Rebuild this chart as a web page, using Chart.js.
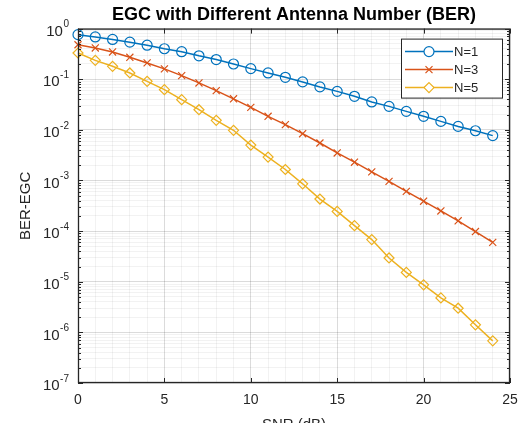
<!DOCTYPE html>
<html lang="en">
<head>
    <meta charset="UTF-8">
    <title>EGC with Different Antenna Number (BER)</title>
    <script src="https://cdn.jsdelivr.net/npm/chart.js"></script>
    <style>
        body {
            margin: 0;
            background-color: #fff;
        }
        canvas {
            display: block;
        }
    </style>
</head>
<body>
    <canvas id="berChart" width="519" height="423"></canvas>

    <script>
        // values
        const snr = [0, 1, 2, 3, 4, 5, 6, 7, 8, 9, 10, 11, 12, 13, 14, 15, 16, 17, 18, 19, 20, 21, 22, 23, 24];
        const berN1 = [0.76, 0.685, 0.61, 0.54, 0.47, 0.40, 0.35, 0.29, 0.245, 0.20, 0.162, 0.133, 0.109,
                       0.0885, 0.0705, 0.0576, 0.046, 0.0356, 0.0291, 0.0232, 0.0185, 0.0147, 0.0117, 0.0096, 0.0077];
        const berN3 = [0.48, 0.415, 0.346, 0.271, 0.21, 0.16, 0.118, 0.0845, 0.0595, 0.041, 0.0278, 0.0185, 0.0127,
                       0.0084, 0.0055, 0.0035, 0.0023, 0.00148, 9.6e-4, 6.1e-4, 3.9e-4, 2.5e-4, 1.6e-4, 9.8e-5, 6.0e-5];
        const berN5 = [0.33, 0.236, 0.18, 0.133, 0.091, 0.0623, 0.0395, 0.025, 0.0154, 0.0098, 0.0050, 0.0029, 0.00165,
                       8.6e-4, 4.3e-4, 2.45e-4, 1.28e-4, 6.8e-5, 2.95e-5, 1.53e-5, 8.7e-6, 4.8e-6, 3.0e-6, 1.41e-6, 6.8e-7];
        const seriesLabels = ['N=1', 'N=3', 'N=5'];
        const xTicks = [0, 5, 10, 15, 20, 25];
        const yExponents = [0, -1, -2, -3, -4, -5, -6, -7];

        const colors = ['#0072BD', '#D95319', '#EDB120'];
        const markers = ['circle', 'crossRot', 'rectRot'];
        const fontFamily = '"Liberation Sans", Arial, Helvetica, sans-serif';
        const axisColor = '#262626';

        function makeDataset(label, values, i) {
            return {
                label: label,
                data: snr.map((s, k) => ({ x: s, y: values[k] })),
                borderColor: colors[i],
                borderWidth: 1.5,
                pointStyle: markers[i],
                pointRadius: 5,
                pointBorderWidth: 1.2,
                pointBorderColor: colors[i],
                pointBackgroundColor: 'rgba(0,0,0,0)',
                clip: 8,
                tension: 0
            };
        }

        // 10^n labels with a raised exponent
        const logLabels = {
            id: 'logLabels',
            afterDraw(chart) {
                const ctx = chart.ctx;
                const y = chart.scales.y;
                const right = chart.chartArea.left - 9;
                ctx.save();
                ctx.fillStyle = axisColor;
                ctx.textBaseline = 'middle';
                yExponents.forEach(e => {
                    const py = y.getPixelForValue(Math.pow(10, e));
                    const exp = String(e);
                    ctx.font = '10px ' + fontFamily;
                    const ew = ctx.measureText(exp).width;
                    ctx.textAlign = 'left';
                    ctx.fillText(exp, right - ew, py - 4);
                    ctx.font = '15px ' + fontFamily;
                    ctx.textAlign = 'right';
                    ctx.fillText('10', right - ew - 0.5, py + 3);
                });
                ctx.restore();
            }
        };

        // box around the axes plus inner tick marks
        const axesBox = {
            id: 'axesBox',
            afterDatasetsDraw(chart) {
                const { ctx, chartArea: a, scales } = chart;
                ctx.save();
                ctx.strokeStyle = axisColor;
                ctx.lineWidth = 1;
                ctx.beginPath();
                scales.y.ticks.forEach(t => {
                    const py = Math.round(scales.y.getPixelForValue(t.value)) + 0.5;
                    const len = t.major ? 5 : 3;
                    ctx.moveTo(a.left, py);
                    ctx.lineTo(a.left + len, py);
                    ctx.moveTo(a.right, py);
                    ctx.lineTo(a.right - len, py);
                });
                xTicks.forEach(v => {
                    const px = Math.round(scales.x.getPixelForValue(v)) + 0.5;
                    ctx.moveTo(px, a.bottom);
                    ctx.lineTo(px, a.bottom - 5);
                    ctx.moveTo(px, a.top);
                    ctx.lineTo(px, a.top + 5);
                });
                ctx.stroke();
                ctx.lineWidth = 1.3;
                ctx.strokeRect(a.left + 0.5, a.top + 0.5, a.right - a.left - 1, a.bottom - a.top - 1);
                ctx.restore();
            }
        };

        // legend box in the upper right corner, line through the marker
        const boxLegend = {
            id: 'boxLegend',
            afterDraw(chart) {
                const ctx = chart.ctx;
                const a = chart.chartArea;
                const bx = a.right - 109, by = a.top + 10, bw = 101, bh = 59;
                ctx.save();
                ctx.fillStyle = '#fff';
                ctx.fillRect(bx, by, bw, bh);
                ctx.strokeStyle = axisColor;
                ctx.lineWidth = 1;
                ctx.strokeRect(bx + 0.5, by + 0.5, bw, bh);
                chart.data.datasets.forEach((ds, i) => {
                    const ry = by + 13 + i * 18;
                    const x0 = bx + 4, x1 = bx + 52, mx = (x0 + x1) / 2;
                    ctx.strokeStyle = ds.borderColor;
                    ctx.lineWidth = 1.5;
                    ctx.beginPath();
                    ctx.moveTo(x0, ry);
                    ctx.lineTo(x1, ry);
                    ctx.stroke();
                    ctx.lineWidth = 1.2;
                    ctx.beginPath();
                    if (ds.pointStyle === 'circle') {
                        ctx.arc(mx, ry, 5, 0, Math.PI * 2);
                    } else if (ds.pointStyle === 'crossRot') {
                        ctx.moveTo(mx - 3.5, ry - 3.5);
                        ctx.lineTo(mx + 3.5, ry + 3.5);
                        ctx.moveTo(mx + 3.5, ry - 3.5);
                        ctx.lineTo(mx - 3.5, ry + 3.5);
                    } else {
                        ctx.moveTo(mx, ry - 5);
                        ctx.lineTo(mx + 5, ry);
                        ctx.lineTo(mx, ry + 5);
                        ctx.lineTo(mx - 5, ry);
                        ctx.closePath();
                    }
                    ctx.fillStyle = '#fff';
                    ctx.fill();
                    ctx.stroke();
                    ctx.fillStyle = axisColor;
                    ctx.font = '13px ' + fontFamily;
                    ctx.textAlign = 'left';
                    ctx.textBaseline = 'middle';
                    ctx.fillText(ds.label, x1 + 1, ry + 1);
                });
                ctx.restore();
            }
        };

        function buildLogTicks(scale) {
            const ticks = [];
            yExponents.slice().reverse().forEach(e => {
                for (let m = 1; m <= 9; m++) {
                    const v = m * Math.pow(10, e);
                    if (v <= 1.0000001) {
                        ticks.push({ value: v, major: m === 1 });
                    }
                }
            });
            scale.ticks = ticks;
        }

        const ctx = document.getElementById('berChart').getContext('2d');
        new Chart(ctx, {
            type: 'line',
            data: {
                datasets: [
                    makeDataset(seriesLabels[0], berN1, 0),
                    makeDataset(seriesLabels[1], berN3, 1),
                    makeDataset(seriesLabels[2], berN5, 2)
                ]
            },
            options: {
                responsive: false,
                animation: false,
                layout: {
                    padding: { left: 0, right: 9, top: 0, bottom: 0 }
                },
                scales: {
                    x: {
                        type: 'linear',
                        min: 0,
                        max: 25,
                        afterFit: s => {
                            s.height = 40;
                            s.paddingLeft = 0;
                            s.paddingRight = 0;
                        },
                        ticks: {
                            stepSize: 1,
                            autoSkip: false,
                            maxRotation: 0,
                            padding: 9,
                            color: axisColor,
                            font: { family: fontFamily, size: 14 },
                            callback: v => xTicks.includes(v) ? String(v) : ''
                        },
                        grid: {
                            drawTicks: false,
                            color: c => c.tick && xTicks.includes(c.tick.value) ? 'rgba(0,0,0,0.14)' : 'rgba(0,0,0,0.05)'
                        },
                        border: { display: false },
                        title: {
                            display: true,
                            text: 'SNR (dB)',
                            color: axisColor,
                            font: { family: fontFamily, size: 15 },
                            padding: { top: 0, bottom: -11 }
                        }
                    },
                    y: {
                        type: 'logarithmic',
                        min: 1e-7,
                        max: 1,
                        afterBuildTicks: buildLogTicks,
                        afterFit: s => {
                            s.width = 78;
                            s.paddingTop = 0;
                            s.paddingBottom = 0;
                        },
                        ticks: { display: false },
                        grid: {
                            drawTicks: false,
                            color: c => c.tick && c.tick.major ? 'rgba(0,0,0,0.14)' : 'rgba(0,0,0,0.05)'
                        },
                        border: { display: false },
                        title: {
                            display: true,
                            text: 'BER-EGC',
                            color: axisColor,
                            font: { family: fontFamily, size: 15 },
                            padding: { top: 17, bottom: 0 }
                        }
                    }
                },
                plugins: {
                    legend: { display: false },
                    tooltip: { enabled: false },
                    title: {
                        display: true,
                        text: 'EGC with Different Antenna Number (BER)',
                        fullSize: false,
                        color: '#000',
                        font: { family: fontFamily, size: 18, weight: 'bold' },
                        padding: { top: 4, bottom: 3 }
                    }
                }
            },
            plugins: [axesBox, logLabels, boxLegend]
        });
    </script>
</body>
</html>
